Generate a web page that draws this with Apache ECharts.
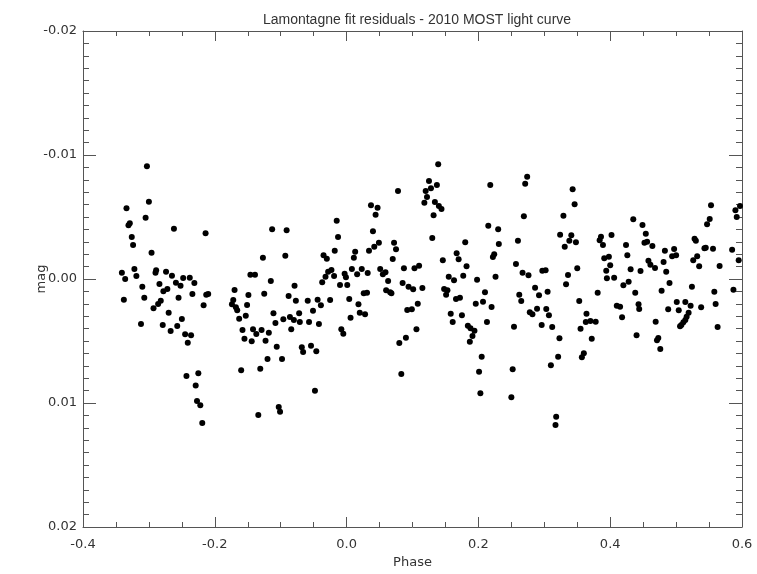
<!DOCTYPE html>
<html>
<head>
<meta charset="utf-8">
<script src="https://cdn.jsdelivr.net/npm/echarts@6/dist/echarts.min.js"></script>
<style>html,body{margin:0;padding:0;background:#fff;}#c{width:757px;height:574px;}</style>
</head>
<body>
<div id="c"></div>
<script>
var titleText = "Lamontagne fit residuals - 2010 MOST light curve";
var xName = "Phase";
var yName = "mag";
var xTicks = [-0.4, -0.2, 0.0, 0.2, 0.4, 0.6];
var yTicks = [-0.02, -0.01, 0.00, 0.01, 0.02];

var phase = [
 -0.303,-0.300,-0.334,-0.305,-0.329,-0.331,-0.262,-0.326,-0.324,-0.296,-0.322,-0.341,-0.319,-0.336,-0.289,-0.290,
 -0.274,-0.265,-0.284,-0.259,-0.252,-0.248,-0.238,-0.231,-0.310,-0.272,-0.278,-0.234,-0.255,-0.307,-0.338,-0.282,
 -0.286,-0.293,-0.270,-0.250,-0.312,-0.279,-0.257,-0.267,-0.245,-0.236,-0.241,-0.243,-0.225,-0.229,-0.227,
 -0.214,-0.113,-0.091,-0.127,-0.093,-0.146,-0.139,-0.115,-0.079,-0.210,-0.213,-0.170,-0.149,-0.125,-0.088,-0.217,
 -0.172,-0.174,-0.168,-0.166,-0.151,-0.077,-0.059,-0.163,-0.153,-0.111,-0.108,-0.096,-0.086,-0.080,-0.072,-0.071,
 -0.057,-0.158,-0.142,-0.137,-0.129,-0.118,-0.084,-0.155,-0.144,-0.123,-0.106,-0.068,-0.066,-0.120,-0.098,-0.131,
 -0.160,-0.222,-0.219,-0.134,-0.103,-0.101,
 0.078,0.037,0.047,0.044,-0.015,-0.013,0.040,0.049,0.042,0.034,0.072,0.075,0.070,-0.018,0.013,0.011,
 -0.035,-0.030,0.087,0.103,0.110,-0.028,-0.023,-0.032,-0.037,-0.019,-0.003,-0.001,0.008,0.016,0.023,0.032,
 0.051,0.055,0.059,0.063,-0.010,0.001,0.085,0.094,0.101,0.026,0.031,0.060,0.066,0.068,-0.044,-0.039,
 -0.025,-0.051,0.004,0.018,0.020,0.028,0.006,0.108,0.092,0.099,-0.042,0.106,-0.008,-0.005,0.090,0.080,
 -0.054,-0.046,0.083,-0.048,
 0.139,0.125,0.128,0.120,0.137,0.122,0.118,0.134,0.140,0.144,0.132,0.218,0.274,0.271,0.269,0.130,
 0.215,0.230,0.180,0.231,0.260,0.167,0.170,0.146,0.182,0.224,0.222,0.257,0.267,0.276,0.155,0.163,
 0.177,0.198,0.226,0.115,0.148,0.153,0.151,0.210,0.166,0.172,0.196,0.207,0.220,0.262,0.265,0.158,
 0.175,0.161,0.213,0.184,0.188,0.194,0.191,0.187,0.254,0.278,0.205,0.201,0.252,0.203,0.250,
 0.343,0.346,0.329,0.435,0.324,0.341,0.338,0.348,0.331,0.386,0.384,0.389,0.402,0.424,0.426,0.391,
 0.398,0.400,0.394,0.395,0.406,0.431,0.446,0.350,0.336,0.333,0.297,0.302,0.286,0.305,0.292,0.381,
 0.420,0.428,0.438,0.353,0.289,0.282,0.303,0.307,0.296,0.312,0.410,0.415,0.443,0.444,0.418,0.364,
 0.363,0.370,0.378,0.355,0.372,0.323,0.440,0.360,0.357,0.321,0.310,0.318,0.317,
 0.553,0.551,0.547,0.597,0.590,0.592,0.449,0.454,0.452,0.456,0.464,0.528,0.530,0.483,0.497,0.494,
 0.500,0.543,0.545,0.556,0.585,0.458,0.461,0.468,0.481,0.532,0.526,0.535,0.566,0.595,0.485,0.490,
 0.524,0.478,0.558,0.587,0.501,0.514,0.522,0.504,0.488,0.538,0.560,0.519,0.516,0.514,0.511,0.508,
 0.506,0.469,0.563,0.473,0.471,0.476
];
var mag = [
 -0.00909,-0.00623,-0.00570,-0.00494,-0.00449,-0.00433,-0.00406,-0.00339,-0.00274,-0.00212,-0.00081,-0.00051,-0.00024,0.00000,-0.00070,-0.00051,
 -0.00059,-0.00027,0.00040,0.00030,0.00054,-0.00008,-0.00010,0.00032,0.00062,0.00081,0.00099,0.00121,0.00151,0.00151,0.00167,0.00175,
 0.00202,0.00236,0.00272,0.00323,0.00363,0.00371,0.00379,0.00419,0.00446,0.00454,0.00514,0.00782,0.00760,0.00859,0.00984,
 -0.00369,-0.00401,-0.00393,-0.00172,-0.00188,-0.00035,-0.00035,0.00016,0.00054,0.00121,0.00127,0.00089,0.00129,0.00119,0.00137,0.00212,
 0.00169,0.00204,0.00228,0.00252,0.00210,0.00175,0.00175,0.00320,0.00296,0.00277,0.00355,0.00325,0.00306,0.00331,0.00277,0.00347,
 0.00347,0.00411,0.00406,0.00444,0.00411,0.00433,0.00406,0.00481,0.00502,0.00498,0.00546,0.00551,0.00589,0.00645,0.00645,0.00723,
 0.00736,0.01019,0.01161,0.01097,0.01032,0.01070,
 -0.00710,-0.00594,-0.00575,-0.00519,-0.00470,-0.00339,-0.00385,-0.00293,-0.00260,-0.00228,-0.00293,-0.00240,-0.00161,-0.00228,-0.00220,-0.00172,
 -0.00191,-0.00164,-0.00086,-0.00086,-0.00107,-0.00059,-0.00073,-0.00019,0.00027,-0.00024,-0.00043,-0.00014,-0.00081,-0.00038,-0.00081,-0.00048,
 -0.00081,-0.00038,-0.00054,0.00016,0.00048,0.00048,0.00032,0.00062,0.00083,0.00115,0.00110,0.00091,0.00107,0.00115,0.00167,0.00212,
 0.00169,0.00256,0.00161,0.00204,0.00272,0.00285,0.00312,0.00199,0.00250,0.00244,0.00363,0.00406,0.00406,0.00441,0.00473,0.00516,
 0.00538,0.00583,0.00766,0.00901,
 -0.00925,-0.00790,-0.00731,-0.00710,-0.00758,-0.00661,-0.00615,-0.00621,-0.00589,-0.00565,-0.00514,-0.00758,-0.00825,-0.00769,-0.00506,-0.00331,
 -0.00430,-0.00401,-0.00296,-0.00282,-0.00309,-0.00207,-0.00159,-0.00151,-0.00102,-0.00199,-0.00177,-0.00121,-0.00051,-0.00030,-0.00019,0.00010,
 -0.00027,0.00006,-0.00019,0.00073,0.00081,0.00091,0.00127,0.00107,0.00161,0.00151,0.00199,0.00183,0.00226,0.00127,0.00177,0.00280,
 0.00293,0.00347,0.00347,0.00377,0.00398,0.00417,0.00460,0.00506,0.00385,0.00269,0.00627,0.00748,0.00728,0.00922,0.00954,
 -0.00723,-0.00602,-0.00510,-0.00482,-0.00357,-0.00352,-0.00309,-0.00296,-0.00260,-0.00341,-0.00312,-0.00274,-0.00355,-0.00274,-0.00191,-0.00167,
 -0.00180,-0.00110,-0.00067,-0.00006,-0.00010,-0.00078,-0.00065,-0.00086,-0.00032,0.00043,-0.00067,-0.00070,0.00070,0.00102,0.00131,0.00110,
 0.00051,0.00022,0.00110,0.00177,0.00240,0.00285,0.00242,0.00293,0.00371,0.00387,0.00215,0.00223,0.00204,0.00242,0.00309,0.00280,
 0.00347,0.00339,0.00344,0.00401,0.00481,0.00478,0.00454,0.00599,0.00631,0.00627,0.00696,0.01110,0.01177,
 -0.00594,-0.00484,-0.00441,-0.00589,-0.00554,-0.00500,-0.00435,-0.00365,-0.00293,-0.00301,-0.00266,-0.00325,-0.00309,-0.00228,-0.00242,-0.00183,
 -0.00191,-0.00248,-0.00252,-0.00244,-0.00236,-0.00148,-0.00115,-0.00089,-0.00137,-0.00183,-0.00151,-0.00102,-0.00105,-0.00151,-0.00059,0.00032,
 0.00062,0.00094,0.00102,0.00086,0.00185,0.00185,0.00215,0.00252,0.00244,0.00228,0.00202,0.00272,0.00304,0.00331,0.00349,0.00371,
 0.00381,0.00344,0.00387,0.00476,0.00494,0.00565
];

var points = phase.map(function (p, i) { return [p, mag[i]]; });

var FONT = "DejaVu Sans";
var TXT = "#333";
var LINE = "#555";

function xFmt(v) { for (var i = 0; i < xTicks.length; i++) { if (Math.abs(v - xTicks[i]) < 1e-9) return xTicks[i].toFixed(1); } return ""; }
function yFmt(v) { for (var i = 0; i < yTicks.length; i++) { if (Math.abs(v - yTicks[i]) < 1e-9) return yTicks[i].toFixed(2); } return ""; }

var baseX = {
  type: "value", min: xTicks[0], max: xTicks[xTicks.length - 1], interval: 0.2,
  axisLine: { show: true, onZero: false, lineStyle: { color: LINE, width: 1 } },
  axisTick: { show: true, inside: true, length: 10, lineStyle: { color: LINE } },
  minorTick: { show: true, splitNumber: 4, length: 5, lineStyle: { color: LINE } },
  splitLine: { show: false }, minorSplitLine: { show: false }
};
var baseY = {
  type: "value", inverse: true, min: yTicks[0], max: yTicks[yTicks.length - 1], interval: 0.01,
  axisLine: { show: true, onZero: false, lineStyle: { color: LINE, width: 1 } },
  axisTick: { show: true, inside: true, length: 13, lineStyle: { color: LINE } },
  minorTick: { show: true, splitNumber: 10, length: 6, lineStyle: { color: LINE } },
  splitLine: { show: false }, minorSplitLine: { show: false }
};

var chart = echarts.init(document.getElementById("c"), null, { renderer: "canvas" });
chart.setOption({
  animation: false,
  backgroundColor: "#fff",
  title: {
    text: titleText, left: 412, top: 8, textAlign: "center",
    textStyle: { fontFamily: "Liberation Sans", fontSize: 14, fontWeight: "normal", color: TXT }
  },
  grid: { left: 83, right: 15, top: 31, bottom: 47, containLabel: false },
  xAxis: [
    Object.assign({}, baseX, {
      position: "bottom", name: xName, nameLocation: "middle", nameGap: 27,
      nameTextStyle: { fontFamily: FONT, fontSize: 13, color: TXT },
      axisLabel: { show: true, margin: 11, fontFamily: FONT, fontSize: 13, color: TXT, formatter: xFmt }
    }),
    Object.assign({}, baseX, { position: "top", axisLabel: { show: false } })
  ],
  yAxis: [
    Object.assign({}, baseY, {
      position: "left", name: yName, nameLocation: "middle", nameGap: 35, nameRotate: 90,
      nameMoveOverlap: false,
      nameTextStyle: { fontFamily: FONT, fontSize: 13, color: TXT },
      axisLabel: { show: true, margin: 6, fontFamily: FONT, fontSize: 13, color: TXT, formatter: yFmt }
    }),
    Object.assign({}, baseY, { position: "right", axisLabel: { show: false } })
  ],
  series: [{
    type: "scatter", xAxisIndex: 0, yAxisIndex: 0,
    symbol: "circle", symbolSize: 6,
    itemStyle: { color: "#000", opacity: 1 },
    data: points
  }]
});
</script>
</body>
</html>
